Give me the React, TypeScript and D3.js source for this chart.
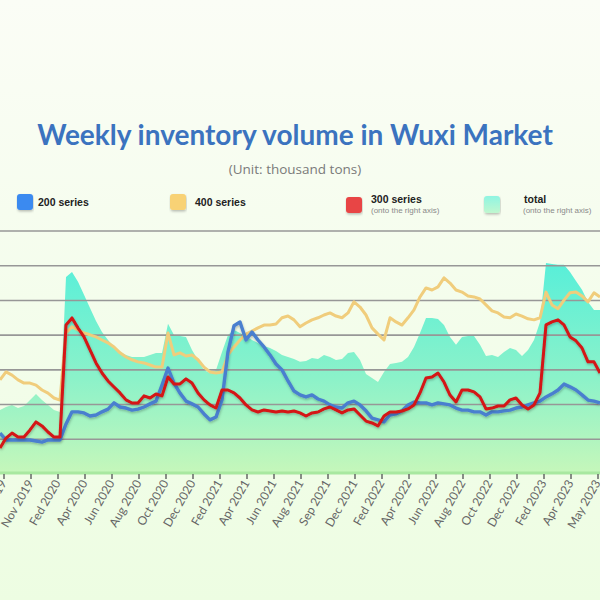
import React from "react";
import * as d3 from "d3";

// Weekly samples (index based, left to right as they appear in the visible window)
const series200: number[] = [
  11.8, 9.8, 9.8, 9.8, 9.8, 9.8, 9.5, 9.2, 9.8, 9.8, 9.8, 14.4, 17.9, 17.9, 17.6, 16.7, 17.0, 17.9, 18.7, 20.5,
  19.3, 19.0, 18.4, 18.7, 19.3, 20.2, 21.0, 25.6, 30.5, 26.2, 23.3, 21.0, 20.2, 19.3, 17.3, 15.6, 16.4, 21.3, 35.2, 42.7,
  43.8, 38.6, 40.9, 38.6, 36.6, 34.3, 31.7, 30.0, 26.8, 23.9, 22.8, 22.2, 22.8, 21.6, 21.0, 19.9, 19.3, 19.0, 20.5, 21.0,
  19.9, 18.2, 16.1, 15.6, 15.0, 17.0, 17.3, 18.2, 19.9, 20.7, 20.5, 20.5, 19.9, 20.5, 20.2, 19.9, 19.0, 18.4, 18.4, 17.9,
  17.9, 17.0, 17.9, 17.9, 18.2, 18.4, 19.0, 19.3, 19.9, 20.5, 21.0, 22.2, 23.1, 24.2, 25.9, 25.1, 24.2, 22.8, 21.3, 21.0,
  20.5,
];
const series400: number[] = [
  27.1, 29.4, 28.5, 27.1, 26.2, 26.2, 25.6, 24.2, 23.3, 21.9, 21.3, 40.6, 42.4, 41.5, 40.6, 40.1, 39.5, 38.6, 37.8, 36.6,
  34.9, 33.7, 32.9, 32.3, 32.0, 31.4, 30.8, 30.8, 40.6, 34.3, 34.9, 34.0, 34.3, 32.9, 30.8, 29.4, 29.1, 29.4, 34.3, 36.6,
  38.6, 40.3, 41.2, 42.1, 42.9, 42.9, 43.2, 45.0, 45.5, 44.4, 42.4, 43.5, 44.4, 45.0, 45.8, 46.4, 45.5, 45.0, 46.4, 49.6,
  48.1, 45.8, 42.1, 40.3, 38.6, 45.0, 43.8, 42.9, 45.0, 47.3, 51.0, 53.6, 53.0, 53.9, 56.5, 55.0, 53.0, 52.4, 51.3, 51.0,
  50.4, 48.7, 47.0, 46.4, 45.2, 45.0, 46.1, 45.5, 44.7, 44.4, 45.0, 52.4, 48.7, 47.6, 50.1, 52.2, 52.4, 51.3, 49.6, 52.2,
  51.0,
];
const series300: number[] = [
  15.0, 20.7, 23.6, 21.3, 21.3, 25.4, 30.0, 27.7, 24.2, 21.3, 21.3, 85.9, 89.9, 84.1, 79.0, 71.5, 64.0, 58.2, 53.6, 50.1,
  46.7, 42.7, 40.9, 40.9, 45.0, 43.8, 46.1, 45.0, 55.9, 51.9, 51.9, 54.8, 52.4, 46.7, 42.7, 39.8, 38.0, 48.4, 48.4, 46.7,
  43.8, 39.8, 36.9, 35.7, 36.9, 36.3, 35.7, 36.3, 35.7, 36.3, 35.2, 33.4, 35.2, 35.7, 37.5, 38.6, 36.9, 35.2, 36.9, 37.5,
  34.0, 30.5, 29.4, 27.7, 33.4, 35.7, 35.7, 36.3, 37.5, 39.8, 46.7, 55.3, 55.9, 58.2, 53.0, 45.5, 41.5, 48.4, 48.4, 47.3,
  44.4, 37.5, 38.0, 39.2, 39.2, 42.7, 43.8, 39.8, 37.5, 39.8, 46.7, 85.9, 87.6, 88.8, 85.9, 79.0, 76.7, 72.6, 64.6, 64.6,
  58.2,
];
const seriesTotal: number[] = [
  36.9, 38.6, 39.8, 38.0, 39.2, 42.7, 46.1, 42.7, 39.8, 36.9, 35.7, 113.5, 116.4, 110.7, 103.2, 95.7, 88.2, 81.8, 77.2, 73.2,
  70.3, 68.6, 67.4, 67.4, 67.4, 68.6, 69.7, 69.7, 86.5, 80.1, 79.5, 79.0, 71.5, 65.7, 59.9, 58.2, 59.9, 70.3, 80.1, 83.0,
  81.3, 79.5, 77.2, 75.5, 73.8, 72.6, 70.9, 68.6, 67.4, 66.3, 64.6, 65.1, 66.9, 66.3, 68.6, 67.4, 65.7, 66.3, 69.7, 70.3,
  65.7, 57.6, 55.3, 53.0, 58.8, 63.4, 64.0, 64.6, 67.4, 73.2, 81.3, 89.9, 89.9, 89.3, 85.9, 79.0, 74.4, 79.0, 79.5, 79.5,
  74.4, 68.0, 68.6, 67.4, 70.3, 72.6, 71.5, 68.0, 71.5, 77.2, 87.6, 121.6, 121.0, 120.5, 120.5, 116.4, 111.2, 106.1, 99.1, 94.5,
  94.5,
];
const tickLabels: string[] = [
  "Sep 2019", "Nov 2019", "Fed 2020", "Apr 2020", "Jun 2020", "Aug 2020", "Oct 2020", "Dec 2020", "Fed 2021",
  "Apr 2021", "Jun 2021", "Aug 2021", "Sep 2021", "Dec 2021", "Fed 2022", "Apr 2022", "Jun 2022", "Aug 2022",
  "Oct 2022", "Dec 2022", "Fed 2023", "Apr 2023", "May 2023",
];
const leftTicks: number[] = [0, 10, 20, 30, 40, 50, 60, 70];

export default function App() {
  const W = 600, H = 600;
  const yBottom = 474, yTop = 231;
  const n = series200.length;
  const x = d3.scaleLinear().domain([0, n - 1]).range([0, 600]);
  const yL = d3.scaleLinear().domain([0, 70]).range([yBottom, yTop]);
  const yR = d3.scaleLinear().domain([0, 140]).range([yBottom, yTop]);
  const xt = d3.scalePoint<string>().domain(tickLabels).range([4, 598]);

  const lineL = d3.line<number>().x((_, i) => x(i)).y((d) => yL(d));
  const lineR = d3.line<number>().x((_, i) => x(i)).y((d) => yR(d));
  const area = d3.area<number>().x((_, i) => x(i)).y0(yBottom).y1((d) => yR(d));

  return (
    <div style={{ position: "absolute", left: 0, top: 0 }}>
      <svg width={W} height={H} style={{ display: "block" }}>
        <defs>
          <linearGradient id="bg" x1="0" y1="0" x2="0" y2="1">
            <stop offset="0" stopColor="#fbfdf6" />
            <stop offset="1" stopColor="#edfde2" />
          </linearGradient>
          <linearGradient id="areaG" gradientUnits="userSpaceOnUse" x1="0" y1={263} x2="0" y2={yBottom}>
            <stop offset="0" stopColor="#58efd9" />
            <stop offset="0.55" stopColor="#8cf2c9" />
            <stop offset="1" stopColor="#c6f7ba" />
          </linearGradient>
          <linearGradient id="tealSq" x1="0" y1="0" x2="0" y2="1">
            <stop offset="0" stopColor="#8ff5e2" />
            <stop offset="1" stopColor="#c0f7cf" />
          </linearGradient>
          <filter id="sh" x="-5%" y="-20%" width="110%" height="140%">
            <feDropShadow dx="0.5" dy="1.5" stdDeviation="1.2" floodColor="#000" floodOpacity="0.25" />
          </filter>
          <filter id="soft" x="-5%" y="-20%" width="110%" height="140%">
            <feGaussianBlur stdDeviation="0.6" />
          </filter>
        </defs>
        <rect x={0} y={0} width={W} height={H} fill="url(#bg)" />

        <text x={295} y={145} textAnchor="middle" fontFamily="Lato, sans-serif" fontWeight={700}
          fontSize={28} fill="#3b73bf">Weekly inventory volume in Wuxi Market</text>
        <text x={295} y={174} textAnchor="middle" fontFamily="'Open Sans', sans-serif" fontSize={13.5}
          fill="#7a7a7a">(Unit: thousand tons)</text>

        {/* legend */}
        <g fontFamily="'Liberation Sans', Arial, sans-serif">
          <rect x={17} y={194} width={16} height={16} rx={3} fill="#3a8af0" filter="url(#sh)" />
          <text x={38} y={206} fontSize={10.5} fontWeight={700} fill="#222">200 series</text>
          <rect x={170} y={194} width={16} height={16} rx={3} fill="#f8d274" filter="url(#sh)" />
          <text x={195} y={206} fontSize={10.5} fontWeight={700} fill="#222">400 series</text>
          <rect x={346} y={197} width={16} height={16} rx={3} fill="#e84444" filter="url(#sh)" />
          <text x={371} y={203} fontSize={10.5} fontWeight={700} fill="#222">300 series</text>
          <text x={371} y={213} fontSize={8} fill="#8a8a8a">(onto the right axis)</text>
          <rect x={484} y={196} width={16} height={17} rx={3} fill="url(#tealSq)" filter="url(#sh)" />
          <text x={524} y={203} fontSize={10.5} fontWeight={700} fill="#222">total</text>
          <text x={523} y={213} fontSize={8} fill="#8a8a8a">(onto the right axis)</text>
        </g>

        {/* total area */}
        <path d={area(seriesTotal) || ""} fill="url(#areaG)" />

        {/* grid */}
        {leftTicks.slice(1).map((t) => (
          <line key={t} x1={0} x2={W} y1={yL(t)} y2={yL(t)} stroke="#979797" strokeWidth={1.6} />
        ))}

        {/* lines */}
        <path d={lineL(series400) || ""} fill="none" stroke="#f0cd7c" strokeWidth={3}
          strokeLinejoin="round" filter="url(#soft)" />
        <path d={lineL(series200) || ""} fill="none" stroke="#4a7fcf" strokeWidth={3.4}
          strokeLinejoin="round" filter="url(#sh)" />
        <path d={lineR(series300) || ""} fill="none" stroke="#d41414" strokeWidth={3}
          strokeLinejoin="round" filter="url(#sh)" />

        {/* x axis */}
        <line x1={0} x2={W} y1={yBottom - 1} y2={yBottom - 1} stroke="#a8e8a0" strokeWidth={3} />
        {tickLabels.map((t) => (
          <g key={t} transform={`translate(${xt(t)},0)`}>
            <line y1={yBottom} y2={yBottom + 5} stroke="#666" strokeWidth={1.5} />
            <text transform={`translate(3,${yBottom + 9}) rotate(-60)`} textAnchor="end"
              fontFamily="Lato, sans-serif" fontSize={12} fill="#666">{t}</text>
          </g>
        ))}
      </svg>
    </div>
  );
}
